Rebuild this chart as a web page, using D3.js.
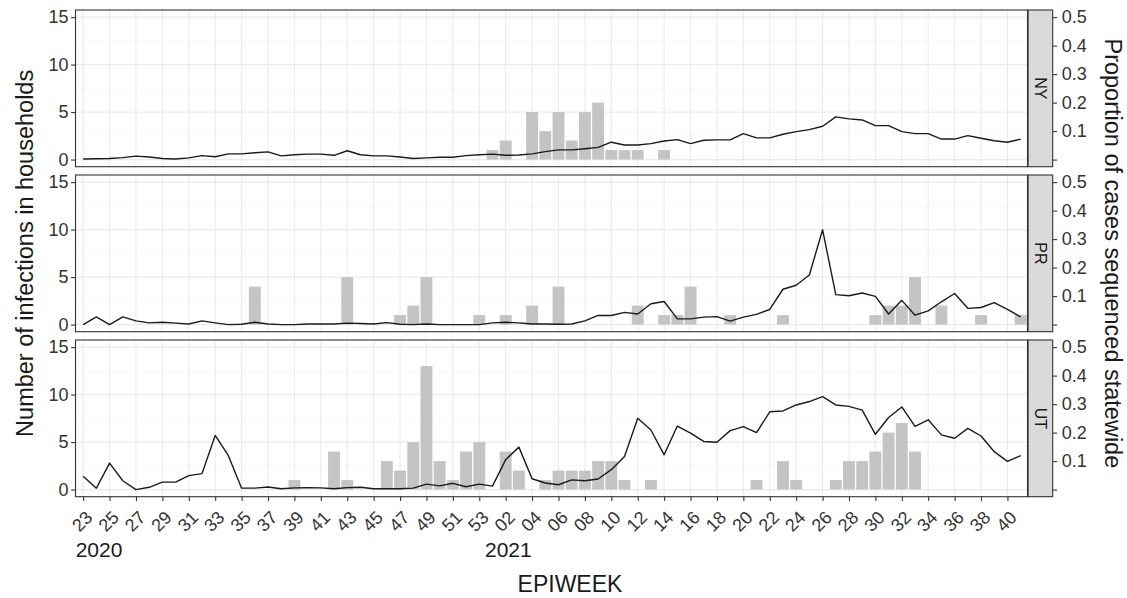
<!DOCTYPE html>
<html>
<head>
<meta charset="utf-8">
<script src="https://cdn.jsdelivr.net/npm/d3@7"></script>
<style>
  body { margin: 0; background: #fff; }
  text { font-family: "Liberation Sans", Arial, sans-serif; }
</style>
</head>
<body>
<script>
// epiweeks, 2020 w23 .. 2021 w41
var epiweeks = [
  "2020-23","2020-24","2020-25","2020-26","2020-27","2020-28","2020-29","2020-30","2020-31","2020-32",
  "2020-33","2020-34","2020-35","2020-36","2020-37","2020-38","2020-39","2020-40","2020-41","2020-42",
  "2020-43","2020-44","2020-45","2020-46","2020-47","2020-48","2020-49","2020-50","2020-51","2020-52",
  "2020-53","2021-01","2021-02","2021-03","2021-04","2021-05","2021-06","2021-07","2021-08","2021-09",
  "2021-10","2021-11","2021-12","2021-13","2021-14","2021-15","2021-16","2021-17","2021-18","2021-19",
  "2021-20","2021-21","2021-22","2021-23","2021-24","2021-25","2021-26","2021-27","2021-28","2021-29",
  "2021-30","2021-31","2021-32","2021-33","2021-34","2021-35","2021-36","2021-37","2021-38","2021-39",
  "2021-40","2021-41"
];
var states = ["NY", "PR", "UT"];

// number of infections in households (bars)
var householdsNY = [
  0,0,0,0,0,0,0,0,0,0, 0,0,0,0,0,0,0,0,0,0, 0,0,0,0,0,0,0,0,0,0,
  0,1,2,0,5,3,5,2,5,6, 1,1,1,0,1,0,0,0,0,0, 0,0,0,0,0,0,0,0,0,0,
  0,0,0,0,0,0,0,0,0,0, 0,0
];
var householdsPR = [
  0,0,0,0,0,0,0,0,0,0, 0,0,0,4,0,0,0,0,0,0, 5,0,0,0,1,2,5,0,0,0,
  1,0,1,0,2,0,4,0,0,0, 0,0,2,0,1,1,4,0,0,1, 0,0,0,1,0,0,0,0,0,0,
  1,2,2,5,0,2,0,0,1,0, 0,1
];
var householdsUT = [
  0,0,0,0,0,0,0,0,0,0, 0,0,0,0,0,0,1,0,0,4, 1,0,0,3,2,5,13,3,1,4,
  5,0,4,2,0,1,2,2,2,3, 3,1,0,1,0,0,0,0,0,0, 0,1,0,3,1,0,0,1,3,3,
  4,6,7,4,0,0,0,0,0,0, 0,0
];

// proportion of cases sequenced statewide (line)
var sequencedNY = [
  .002,.003,.004,.007,.012,.009,.004,.002,.006,.014, .010,.020,.020,.024,.027,.013,.017,.019,.019,.015,
  .031,.017,.013,.013,.009,.004,.006,.008,.008,.014, .017,.019,.015,.016,.020,.028,.034,.034,.038,.043,
  .061,.051,.051,.056,.065,.070,.056,.068,.069,.069, .091,.076,.076,.089,.098,.105,.117,.150,.143,.139,
  .119,.119,.098,.091,.091,.072,.072,.084,.075,.066, .061,.072
];
var sequencedPR = [
  .000,.027,.000,.027,.013,.006,.008,.005,.002,.013, .006,.000,.001,.008,.002,.000,.000,.002,.002,.002,
  .005,.004,.002,.007,.001,.000,.002,.000,.000,.000, .000,.006,.008,.006,.002,.002,.001,.002,.013,.032,
  .032,.043,.037,.073,.081,.020,.020,.026,.028,.012, .026,.036,.053,.124,.138,.174,.333,.105,.101,.111,
  .099,.037,.085,.033,.048,.080,.109,.057,.060,.077, .053,.027
];
var sequencedUT = [
  .047,.005,.093,.031,.000,.008,.026,.026,.049,.056, .190,.119,.005,.005,.009,.003,.006,.007,.006,.003,
  .007,.008,.003,.003,.003,.005,.019,.013,.022,.010, .019,.012,.105,.149,.038,.023,.017,.034,.031,.037,
  .070,.116,.250,.209,.122,.223,.198,.169,.166,.207, .221,.200,.273,.276,.297,.309,.326,.297,.292,.279,
  .194,.253,.290,.222,.245,.192,.180,.215,.188,.133, .099,.119
];

var yTicks = [0, 5, 10, 15];
var yMinor = [2.5, 7.5, 12.5];
var propTicks = [0, 0.1, 0.2, 0.3, 0.4, 0.5];
var xTickWeeks = epiweeks.filter((d, i) => i % 2 === 0);
var yearLabels = [{year: "2020", week: "2020-23"}, {year: "2021", week: "2021-01"}];
var scaleFactor = 30;

var households = {NY: householdsNY, PR: householdsPR, UT: householdsUT};
var sequenced = {NY: sequencedNY, PR: sequencedPR, UT: sequencedUT};

var width = 1127, height = 598;
var panelLeft = 75.5, panelRight = 1027.5, stripW = 25.2;
var panelH = 156.7, panelGap = 8.3, panelTop0 = 10;
var tickColor = "#333333";

var svg = d3.select("body").append("svg")
    .attr("width", width)
    .attr("height", height);

var x = d3.scaleLinear()
    .domain([-0.58, epiweeks.length - 0.48])
    .range([panelLeft, panelRight]);
var xw = w => x(epiweeks.indexOf(w));
var barW = (x(1) - x(0)) * 0.9;

states.forEach(function(st, k) {
    var top = panelTop0 + k * (panelH + panelGap);
    var y = d3.scaleLinear().domain([-0.75, 15.75]).range([top + panelH, top]);
    var yR = d3.scaleLinear().domain([-0.75 / scaleFactor, 15.75 / scaleFactor]).range([top + panelH, top]);
    var g = svg.append("g").attr("class", "panel");

    // grid
    g.selectAll("line.minor").data(yMinor).enter().append("line")
        .attr("x1", panelLeft).attr("x2", panelRight)
        .attr("y1", d => y(d)).attr("y2", d => y(d))
        .attr("stroke", "#f4f4f4").attr("stroke-width", 0.6);
    g.selectAll("line.major").data(yTicks).enter().append("line")
        .attr("x1", panelLeft).attr("x2", panelRight)
        .attr("y1", d => y(d)).attr("y2", d => y(d))
        .attr("stroke", "#ebebeb").attr("stroke-width", 1.1);
    g.selectAll("line.vgrid").data(xTickWeeks).enter().append("line")
        .attr("x1", d => xw(d)).attr("x2", d => xw(d))
        .attr("y1", top).attr("y2", top + panelH)
        .attr("stroke", "#ebebeb").attr("stroke-width", 1.1);

    // bars
    var bars = epiweeks.map((w, i) => ({week: w, value: households[st][i]})).filter(d => d.value > 0);
    g.selectAll("rect.bar").data(bars).enter().append("rect")
        .attr("class", "bar")
        .attr("x", d => xw(d.week) - barW / 2)
        .attr("width", barW)
        .attr("y", d => y(d.value))
        .attr("height", d => y(0) - y(d.value))
        .style("fill", "#c4c4c6");

    // line
    var line = d3.line()
        .x((d, i) => x(i))
        .y(d => y(d * scaleFactor));
    g.append("path")
        .datum(sequenced[st])
        .attr("d", line)
        .attr("fill", "none")
        .attr("stroke", "#1a1a1a")
        .attr("stroke-width", 1.4)
        .attr("stroke-linejoin", "round");

    // border
    g.append("rect")
        .attr("x", panelLeft).attr("y", top)
        .attr("width", panelRight - panelLeft).attr("height", panelH)
        .attr("fill", "none").attr("stroke", "#333333").attr("stroke-width", 1.1);

    // strip
    g.append("rect")
        .attr("x", panelRight + 0.6).attr("y", top)
        .attr("width", stripW - 0.6).attr("height", panelH)
        .attr("fill", "#d9d9d9").attr("stroke", "#333333").attr("stroke-width", 1.1);
    g.append("text")
        .attr("transform", `translate(${panelRight + stripW / 2 + 0.3},${top + panelH / 2}) rotate(90)`)
        .attr("text-anchor", "middle")
        .attr("dy", "0.35em")
        .style("font-size", "16px")
        .style("fill", "#1a1a1a")
        .text(st);

    // left axis
    var yAxis = d3.axisLeft(y).tickValues(yTicks).tickSize(4.4).tickPadding(2.6);
    var ga = g.append("g").attr("transform", `translate(${panelLeft},0)`).call(yAxis);
    ga.select(".domain").remove();
    ga.selectAll(".tick line").attr("stroke", "#333333").attr("stroke-width", 1.1);
    ga.selectAll(".tick text").style("font-size", "18px").style("fill", tickColor).style("font-family", "Liberation Sans, Arial, sans-serif");

    // right (secondary) axis
    var yAxisR = d3.axisRight(yR).tickValues(propTicks).tickSize(4.4).tickPadding(4.6)
        .tickFormat(d => d === 0 ? "" : d3.format(".1f")(d));
    var gr = g.append("g").attr("transform", `translate(${panelRight + stripW},0)`).call(yAxisR);
    gr.select(".domain").remove();
    gr.selectAll(".tick line").attr("stroke", "#333333").attr("stroke-width", 1.1);
    gr.selectAll(".tick text").style("font-size", "18px").style("fill", tickColor).style("font-family", "Liberation Sans, Arial, sans-serif");

    if (k === states.length - 1) {
        var xAxis = d3.axisBottom(x)
            .tickValues(xTickWeeks.map(w => epiweeks.indexOf(w)))
            .tickSize(4.4)
            .tickFormat(i => epiweeks[i].slice(5));
        var gx = g.append("g").attr("transform", `translate(0,${top + panelH})`).call(xAxis);
        gx.select(".domain").remove();
        gx.selectAll(".tick line").attr("stroke", "#333333").attr("stroke-width", 1.1);
        gx.selectAll(".tick text")
            .attr("x", 0).attr("y", 0).attr("dy", 0)
            .attr("text-anchor", "end")
            .attr("transform", "translate(10,22) rotate(-45)")
            .style("font-size", "18px").style("fill", tickColor)
            .style("font-family", "Liberation Sans, Arial, sans-serif");

        svg.selectAll("text.year").data(yearLabels).enter().append("text")
            .attr("class", "year")
            .attr("x", d => xw(d.week) - 7.5)
            .attr("y", 556.7)
            .style("font-size", "21px")
            .style("fill", "#1a1a1a")
            .text(d => d.year);
    }
});

// axis titles
var midY = panelTop0 + (3 * panelH + 2 * panelGap) / 2;
svg.append("text")
    .attr("transform", `translate(33,${midY}) rotate(-90)`)
    .attr("text-anchor", "middle")
    .style("font-size", "23.5px")
    .style("fill", "#1a1a1a")
    .text("Number of infections in households");

svg.append("text")
    .attr("transform", `translate(1105,${midY}) rotate(90)`)
    .attr("text-anchor", "middle")
    .style("font-size", "23.5px")
    .style("fill", "#1a1a1a")
    .text("Proportion of cases sequenced statewide");

svg.append("text")
    .attr("x", 570)
    .attr("y", 592)
    .attr("text-anchor", "middle")
    .style("font-size", "23px")
    .style("fill", "#1a1a1a")
    .text("EPIWEEK");
</script>
</body>
</html>
